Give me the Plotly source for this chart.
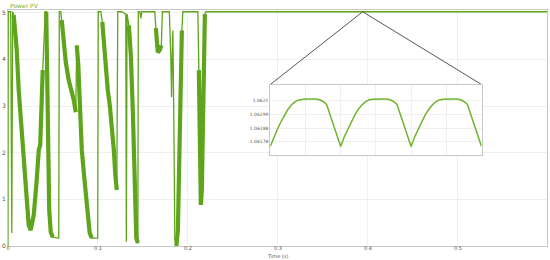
import plotly.graph_objects as go

# ---------------- data ----------------
# Power PV main signal (time in s, power in arbitrary units)
pv_t = [0, 0.0003, 0.003, 0.0042, 0.0052,
        0.0063, 0.0097, 0.0119, 0.0141, 0.0175, 0.0208, 0.0230, 0.0252, 0.0286, 0.0319, 0.0342, 0.0358, 0.0375, 0.0386, 0.0403, 0.0414,
        0.0425, 0.0442, 0.0458, 0.0475, 0.0497, 0.0564, 0.0570,
        0.0586, 0.0597, 0.0620, 0.0642, 0.0675, 0.0709, 0.0731, 0.0753, 0.0764, 0.0781, 0.0797, 0.0808, 0.0820, 0.0842, 0.0864, 0.0886, 0.0908, 0.0931, 0.0997, 0.1003,
        0.1031, 0.1048, 0.1065, 0.1087, 0.1109, 0.1131, 0.1154, 0.1176, 0.1193, 0.1209, 0.1220, 0.1265, 0.1309, 0.1315, 0.1323, 0.1343, 0.1365, 0.1387, 0.1404, 0.1415, 0.1426, 0.1443, 0.1448,
        0.1465, 0.1476, 0.1487, 0.1632, 0.1643, 0.1654, 0.1665, 0.1687, 0.1704, 0.1716, 0.1793, 0.1810, 0.1818, 0.1824, 0.1832, 0.1843, 0.1854, 0.1871, 0.1888, 0.1899, 0.1910, 0.1921, 0.1932, 0.1943,
        0.2110, 0.2121, 0.2132, 0.2143, 0.2154, 0.2165, 0.2176, 0.2188, 0.2199, 0.599]
pv_v = [0, 5.02, 5.02, 0.28, 5.02,
        4.95, 4.20, 3.34, 2.70, 1.73, 0.88, 0.45, 0.34, 0.66, 1.41, 2.06, 2.16, 2.91, 3.77, 4.62, 5.02,
        5.02, 2.70, 0.77, 0.30, 0.19, 0.17, 5.02,
        5.02, 4.84, 4.41, 3.94, 3.55, 3.30, 3.13, 2.87, 4.30, 3.88, 3.13, 2.48, 2.06, 1.58, 1.09, 0.60, 0.28, 0.17, 0.17, 5.02,
        5.02, 4.80, 4.30, 3.77, 3.34, 3.02, 2.59, 2.06, 1.52, 1.20, 5.02, 5.02, 4.97, 0.09, 4.97, 4.73, 4.09, 2.91, 1.63, 0.66, 0.17, 0.06, 5.02,
        5.02, 4.88, 5.02, 5.02, 4.67, 4.30, 4.15, 4.20, 4.30, 5.02, 5.02, 3.98, 3.19, 3.98, 4.62, 2.70, 0.13, 0.00, 0.34, 1.41, 2.70, 3.77, 4.62, 5.02,
        5.02, 3.77, 1.84, 0.88, 1.20, 2.70, 4.20, 4.97, 5.02, 5.02]

# centre lines of the densely oscillating (thick) parts of the signal
band_t = [0.0063, 0.0097, 0.0119, 0.0141, 0.0175, 0.0208, 0.0230, 0.0252, 0.0286, 0.0319, 0.0342, 0.0358, 0.0375, 0.0386, None,
          0.0425, 0.0442, 0.0458, 0.0475, 0.0497, None,
          0.0597, 0.0620, 0.0642, 0.0675, 0.0709, 0.0731, 0.0753, None,
          0.0764, 0.0781, 0.0797, 0.0808, 0.0820, 0.0842, 0.0864, 0.0886, 0.0908, 0.0931, None,
          0.1048, 0.1065, 0.1087, 0.1109, 0.1131, 0.1154, 0.1176, 0.1193, 0.1209, None,
          0.1343, 0.1365, 0.1387, 0.1404, 0.1415, 0.1426, 0.1443, None,
          0.1643, 0.1654, 0.1665, 0.1687, 0.1704, None,
          0.1871, 0.1888, 0.1899, 0.1910, 0.1921, 0.1932, None,
          0.2121, 0.2132, 0.2143, 0.2154, 0.2165, 0.2176, 0.2188]
band_v = [4.95, 4.20, 3.34, 2.70, 1.73, 0.88, 0.45, 0.34, 0.66, 1.41, 2.06, 2.16, 2.91, 3.77, None,
          5.02, 2.70, 0.77, 0.30, 0.19, None,
          4.84, 4.41, 3.94, 3.55, 3.30, 3.13, 2.87, None,
          4.30, 3.88, 3.13, 2.48, 2.06, 1.58, 1.09, 0.60, 0.28, 0.17, None,
          4.80, 4.30, 3.77, 3.34, 3.02, 2.59, 2.06, 1.52, 1.20, None,
          4.73, 4.09, 2.91, 1.63, 0.66, 0.17, 0.06, None,
          4.67, 4.30, 4.15, 4.20, 4.30, None,
          0.00, 0.34, 1.41, 2.70, 3.77, 4.62, None,
          3.77, 1.84, 0.88, 1.20, 2.70, 4.20, 4.97]

# zoomed inset (time in ms, power)
inset_t = [394.000, 394.005, 394.010, 394.015, 394.020, 394.025, 394.030, 394.035, 394.040, 394.045,
           394.050, 394.055, 394.060, 394.065, 394.070, 394.075, 394.080, 394.085, 394.090, 394.095,
           394.100, 394.105, 394.110, 394.115, 394.120, 394.125, 394.130, 394.135, 394.140, 394.145,
           394.150, 394.155, 394.160, 394.165, 394.170, 394.175, 394.180, 394.185, 394.190, 394.195,
           394.200, 394.205, 394.210, 394.215, 394.220, 394.225, 394.230, 394.235, 394.240, 394.245,
           394.250, 394.255, 394.260, 394.265, 394.270, 394.275, 394.280, 394.285, 394.290, 394.295,
           394.300]
inset_v = [1.061736, 1.061812, 1.061871, 1.061931, 1.061987, 1.062030, 1.062066, 1.062091, 1.062106, 1.062112,
           1.062114, 1.062114, 1.062114, 1.062113, 1.062107, 1.062094, 1.062070, 1.061987, 1.061903, 1.061820,
           1.061737, 1.061812, 1.061872, 1.061931, 1.061986, 1.062031, 1.062066, 1.062091, 1.062106, 1.062112,
           1.062114, 1.062114, 1.062114, 1.062113, 1.062107, 1.062094, 1.062070, 1.061987, 1.061903, 1.061820,
           1.061736, 1.061812, 1.061871, 1.061931, 1.061987, 1.062030, 1.062066, 1.062091, 1.062106, 1.062112,
           1.062114, 1.062114, 1.062114, 1.062113, 1.062107, 1.062094, 1.062070, 1.061987, 1.061903, 1.061820,
           1.061737]
inset_ticks = [1.0621, 1.06199, 1.06188, 1.06178]

x_ticks = [0, 0.1, 0.2, 0.3, 0.4, 0.5]
x_ticklabels = ["0", "0.1", "0.2", "0.3", "0.4", "0.5"]
y_ticks = [0, 1, 2, 3, 4, 5]

zoom_t = 0.3942      # point of the main curve magnified in the inset
zoom_v = 5.02

# ---------------- style ----------------
GREEN = "rgb(94,165,28)"
GRID = "#efefef"
BORDER = "#c8c8c8"
FONT = "DejaVu Sans"

x_range = [0, 0.599]
y_range = [0, 5.058]
inset_dom_x = [0.4866, 0.8785]
inset_dom_y = [0.3856, 0.6843]

fig = go.Figure()

fig.add_trace(go.Scatter(x=pv_t, y=pv_v, mode="lines",
                         line=dict(color=GREEN, width=1.3), showlegend=False,
                         xaxis="x", yaxis="y"))
fig.add_trace(go.Scatter(x=band_t, y=band_v, mode="lines",
                         line=dict(color=GREEN, width=4.2), showlegend=False,
                         connectgaps=False, xaxis="x", yaxis="y"))

# connector lines from the zoom point to the inset top corners
cx0 = x_range[0] + inset_dom_x[0] * (x_range[1] - x_range[0])
cx1 = x_range[0] + inset_dom_x[1] * (x_range[1] - x_range[0])
cy = y_range[0] + inset_dom_y[1] * (y_range[1] - y_range[0])
fig.add_trace(go.Scatter(x=[cx0, zoom_t, cx1], y=[cy, zoom_v, cy], mode="lines",
                         line=dict(color="#555555", width=1), showlegend=False,
                         cliponaxis=False, xaxis="x", yaxis="y"))

fig.add_trace(go.Scatter(x=inset_t, y=inset_v, mode="lines",
                         line=dict(color="rgb(110,180,45)", width=1.5), showlegend=False,
                         xaxis="x2", yaxis="y2"))

axis_common = dict(showline=True, linecolor=BORDER, linewidth=1, mirror=True,
                   gridcolor=GRID, gridwidth=1, zeroline=False, ticks="", automargin=False,
                   tickfont=dict(family=FONT, size=6, color="#555555"))

fig.update_layout(
    width=550, height=260,
    margin=dict(l=8, r=3, t=10, b=14),
    paper_bgcolor="white", plot_bgcolor="white",
    font=dict(family=FONT, size=6, color="#555555"),
    xaxis=dict(range=x_range, tickvals=x_ticks, ticktext=x_ticklabels, ticklabelstandoff=-3,
               **{**axis_common, "tickfont": dict(family=FONT, size=5, color="#555555")}),
    yaxis=dict(range=y_range, tickvals=y_ticks, **axis_common),
    xaxis2=dict(domain=inset_dom_x, anchor="y2", range=[394.0, 394.3], dtick=0.05, tick0=394.0,
                showticklabels=False, **axis_common),
    yaxis2=dict(domain=inset_dom_y, anchor="x2", range=[1.061669, 1.0622286], tickvals=inset_ticks,
                **{**axis_common, "tickfont": dict(family=FONT, size=4.5, color="#555555")}),
    annotations=[
        dict(text="Power PV", xref="paper", yref="paper", x=0, y=1.021, xanchor="left", yanchor="middle",
             showarrow=False, font=dict(family=FONT, size=6, color="rgb(120,180,60)")),
        dict(text="Time (s)", xref="paper", yref="paper", x=0.5, y=-0.041, xanchor="center", yanchor="middle",
             showarrow=False, font=dict(family=FONT, size=5, color="#555555")),
    ],
)

fig.write_html("out.html", config={"displayModeBar": False},
               post_script="document.body.style.margin='0';")
